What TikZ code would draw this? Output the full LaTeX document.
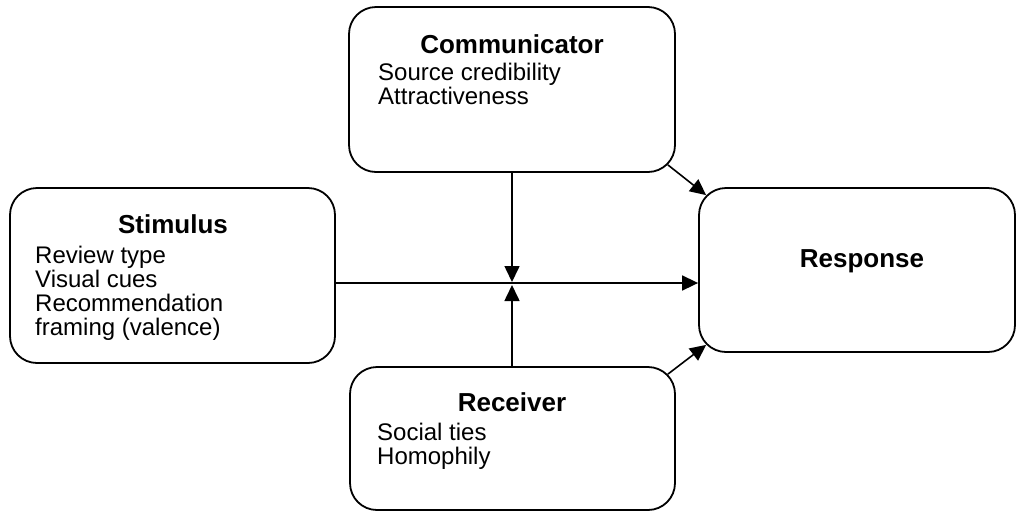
\documentclass[tikz,border=0pt]{standalone}
\usepackage{fontspec}
\setmainfont{Liberation Sans}
\usetikzlibrary{arrows.meta,calc}
\begin{document}
\begin{tikzpicture}[x=1pt,y=-1pt,
  box/.style={draw=black, line width=1.8pt, rounded corners=27pt, rectangle, inner sep=0pt},
  title/.style={anchor=base, font=\fontsize{26}{30}\selectfont\bfseries, inner sep=0pt},
  body/.style={anchor=base west, align=left, font=\fontsize{24}{23.8}\selectfont, inner sep=0pt},
  link/.style={line width=1.6pt, -{Triangle[length=16pt,width=15pt]}}]
\useasboundingbox (0,0) rectangle (1016,512);

% boxes
\node[box, minimum width=326pt, minimum height=165pt] (comm) at (512,89.5) {};
\node[box, minimum width=325pt, minimum height=175pt] (stim) at (172.5,275.5) {};
\node[box, minimum width=325pt, minimum height=143pt] (recv) at (512.5,438.5) {};
\node[box, minimum width=316pt, minimum height=164pt] (resp) at (857,270) {};

% texts (body anchors sit on the baseline of the last line)
\node[title] (commT) at (512,53) {Communicator};
\node[body] (commB) at (378,104) {Source credibility\\Attractiveness};

\node[title] (stimT) at (173,233) {Stimulus};
\begin{scope}
  % the text frame is cut just below the last baseline
  \clip (0,188) rectangle (340,339);
  \node[body] (stimB) at (35,335) {Review type\\Visual cues\\Recommendation\\framing (valence)};
\end{scope}

\node[title] (recvT) at (512,411) {Receiver};
\node[body] (recvB) at (377,464) {Social ties\\Homophily};

\node[title] (respT) at (862,267) {Response};

% connectors
\coordinate (jdown) at (512,282);
\coordinate (jup) at (512,285);
\coordinate (mid) at (512,283);
\draw[link] (stim.east |- mid) -- (resp.west |- mid);
\draw[link] (comm.south -| jdown) -- (jdown);
\draw[link] (recv.north -| jup) -- (jup);
\draw[link] ([shift={(-8,-8)}]comm.south east) -- ([shift={(8,8)}]resp.north west);
\draw[link] ([shift={(-8,8)}]recv.north east) -- ([shift={(8,-8)}]resp.south west);
\end{tikzpicture}
\end{document}
